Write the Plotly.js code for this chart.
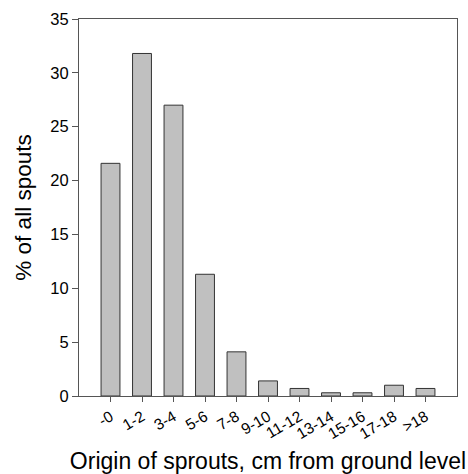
<!DOCTYPE html>
<html><head><meta charset="utf-8">
<script src="https://cdn.plot.ly/plotly-3.0.1.min.js"></script>
<style>body{margin:0;background:#fff}#c{width:468px;height:474px}</style>
</head><body><div id="c"></div>
<script>
const categories = ["-0","1-2","3-4","5-6","7-8","9-10","11-12","13-14","15-16","17-18",">18"];
const percentValues = [21.6, 31.8, 27.0, 11.3, 4.1, 1.4, 0.7, 0.3, 0.3, 1.0, 0.7];
const yTicks = [0,5,10,15,20,25,30,35];

const trace = {
  type: 'bar',
  x: categories.map((c,i)=>i),
  y: percentValues,
  width: 0.6,
  marker: {color: '#c0c0c0', line: {color: '#333', width: 1}},
  hoverinfo: 'none'
};
const layout = {
  width: 468, height: 474,
  margin: {l: 79, r: 11, t: 19, b: 78},
  paper_bgcolor: '#fff', plot_bgcolor: '#fff',
  font: {family: 'Liberation Sans, Arial, sans-serif', color: '#000'},
  showlegend: false,
  xaxis: {
    range: [-1, 11],
    tickmode: 'array',
    tickvals: categories.map((c,i)=>i),
    ticktext: categories,
    tickangle: -30,
    ticks: 'outside', ticklen: 5, tickcolor: '#555',
    showline: true, linecolor: '#555', linewidth: 1, mirror: true,
    showgrid: false, zeroline: false,
    tickfont: {size: 15.5, color: '#000'},
    title: {text: 'Origin of sprouts, cm from ground level', font: {size: 23, color: '#000'}, standoff: 11}
  },
  yaxis: {
    range: [0, 35],
    tickmode: 'array', tickvals: yTicks,
    ticks: 'outside', ticklen: 6, tickcolor: '#555',
    showline: true, linecolor: '#555', linewidth: 1, mirror: true,
    showgrid: false, zeroline: false,
    tickfont: {size: 16.5, color: '#000'},
    title: {text: '% of all spouts', font: {size: 22.5, color: '#000'}, standoff: 12}
  }
};
Plotly.newPlot('c', [trace], layout, {staticPlot: true});
</script></body></html>
